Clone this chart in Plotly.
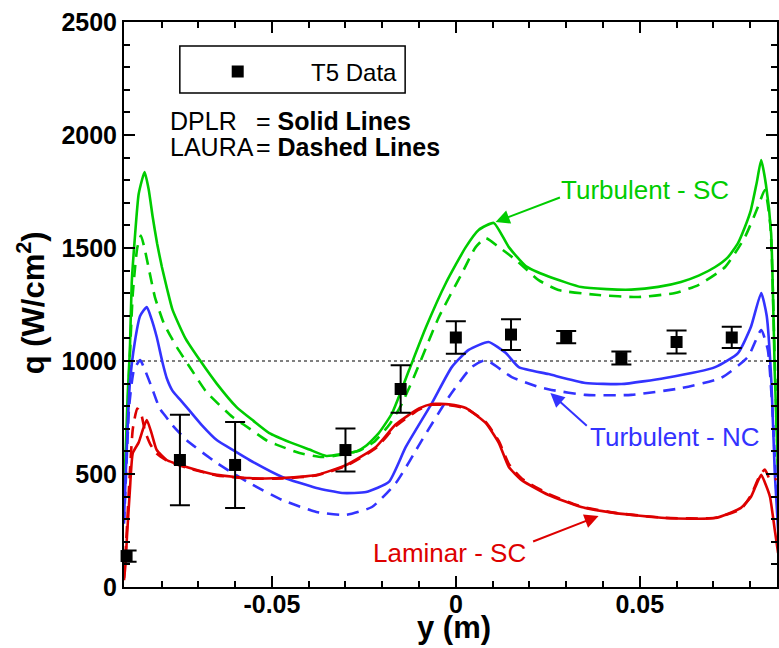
import plotly.graph_objects as go

# ---------------- data ----------------
# T5 experimental data
t5_y = [-0.0895, -0.075, -0.060, -0.030, -0.015, 0.000, 0.015, 0.030, 0.045, 0.060, 0.075]
t5_q = [137, 562, 540, 606, 876, 1104, 1117, 1106, 1013, 1084, 1104]
t5_err = [25, 200, 190, 95, 105, 72, 68, 27, 29, 51, 47]

# Turbulent - SC, DPLR (solid)
tsc_dplr_y = [-0.0902, -0.0897, -0.0892, -0.0886, -0.0881, -0.0873, -0.0862, -0.0846, -0.0835,
              -0.0824, -0.0812, -0.0799, -0.0785, -0.0770, -0.0735, -0.0696, -0.0650, -0.0596,
              -0.0550, -0.0507, -0.0450, -0.0398, -0.0352, -0.0304, -0.0270, -0.0244, -0.0210,
              -0.0173, -0.0127, -0.0081, -0.0027, 0.0027, 0.0062, 0.0103, 0.0144, 0.0190,
              0.0252, 0.0341, 0.0410, 0.0477, 0.0550, 0.0612, 0.0660, 0.0705, 0.0740, 0.0767,
              0.0785, 0.0802, 0.0818, 0.0830, 0.0843, 0.0857, 0.0867, 0.0876]
tsc_dplr_q = [420, 620, 850, 1050, 1345, 1535, 1740, 1836, 1760,
              1637, 1520, 1416, 1320, 1226, 1100, 1004, 900, 796,
              735, 681, 640, 608, 580, 590, 600, 625, 680,
              770, 960, 1150, 1345, 1504, 1580, 1611, 1504, 1420,
              1374, 1327, 1318, 1316, 1328, 1350, 1378, 1416, 1460, 1522,
              1590, 1668, 1790, 1889, 1780, 1566, 947, 500]

# Turbulent - SC, LAURA (dashed)
tsc_laura_y = [-0.0902, -0.0895, -0.0888, -0.0878, -0.0866, -0.0856, -0.0845, -0.0835, -0.0818,
               -0.0794, -0.0762, -0.0718, -0.0678, -0.0607, -0.0575, -0.0507, -0.0488, -0.0425,
               -0.0363, -0.0310, -0.0260, -0.0220, -0.0180, -0.0150, -0.0114, -0.0046, 0.0014,
               0.0054, 0.0081, 0.0117, 0.0163, 0.0225, 0.0279, 0.0388, 0.0496, 0.0596, 0.0659,
               0.0732, 0.0786, 0.0821, 0.0840, 0.0855, 0.0867, 0.0876]
tsc_laura_q = [400, 650, 950, 1300, 1500, 1555, 1490, 1412, 1283,
               1168, 1071, 960, 863, 752, 717, 641, 630, 593,
               575, 585, 605, 645, 720, 800, 929, 1195, 1380,
               1504, 1544, 1504, 1447, 1358, 1314, 1292, 1283, 1301, 1336,
               1416, 1549, 1681, 1757, 1600, 1000, 500]

# Turbulent - NC, DPLR (solid)
tnc_dplr_y = [-0.0902, -0.0896, -0.0891, -0.0886, -0.0873, -0.0858, -0.0840, -0.0828, -0.0813,
              -0.0797, -0.0786, -0.0770, -0.0750, -0.0732, -0.0690, -0.0650, -0.0600, -0.0561,
              -0.0472, -0.0379, -0.0309, -0.0244, -0.0182, -0.0136, -0.0065, -0.0011, 0.0035,
              0.0089, 0.0136, 0.0171, 0.0252, 0.0352, 0.0450, 0.0569, 0.0705, 0.0767, 0.0802,
              0.0830, 0.0845, 0.0858, 0.0867, 0.0876]
tnc_dplr_q = [300, 550, 750, 903, 1080, 1200, 1239, 1190, 1106,
              991, 925, 868, 830, 796, 715, 650, 600, 562,
              487, 438, 416, 420, 465, 620, 814, 973, 1049,
              1084, 1035, 973, 942, 903, 898, 925, 973, 1035, 1150,
              1301, 1200, 900, 504, 250]

# Turbulent - NC, LAURA (dashed)
tnc_laura_y = [-0.0902, -0.0895, -0.0888, -0.0875, -0.0858, -0.0845, -0.0827, -0.0805, -0.0791,
               -0.0770, -0.0732, -0.0650, -0.0561, -0.0472, -0.0379, -0.0298, -0.0228, -0.0163,
               -0.0092, -0.0019, 0.0043, 0.0081, 0.0152, 0.0225, 0.0260, 0.0352, 0.0477, 0.0612,
               0.0721, 0.0794, 0.0830, 0.0848, 0.0860, 0.0872]
tnc_laura_q = [280, 550, 800, 960, 1004, 960, 885, 790, 760,
               715, 650, 549, 460, 385, 332, 319, 354, 460,
               650, 841, 973, 1004, 929, 885, 872, 850, 850, 880,
               925, 1018, 1137, 1050, 800, 400]

# Laminar - SC, DPLR (solid)
lsc_dplr_y = [-0.0902, -0.0898, -0.0894, -0.0886, -0.0878, -0.0862, -0.0850, -0.0840, -0.0827,
              -0.0813, -0.0786, -0.0732, -0.0650, -0.0561, -0.0472, -0.0379, -0.0298, -0.0217,
              -0.0163, -0.0100, -0.0065, -0.0019, 0.0027, 0.0081, 0.0117, 0.0144, 0.0179,
              0.0252, 0.0341, 0.0434, 0.0569, 0.0705, 0.0775, 0.0802, 0.0830, 0.0843, 0.0854,
              0.0867, 0.0876]
lsc_dplr_q = [30, 100, 221, 429, 593, 640, 700, 739, 680,
              606, 562, 531, 496, 482, 482, 496, 540, 620,
              720, 790, 810, 808, 792, 726, 637, 531, 473,
              407, 354, 327, 305, 305, 350, 398, 496, 450, 398,
              252, 150]

# Laminar - SC, LAURA (dashed)
lsc_laura_y = [-0.0902, -0.0896, -0.0888, -0.0878, -0.0866, -0.0856, -0.0845, -0.0830, -0.0813,
               -0.0786, -0.0732, -0.0650, -0.0561, -0.0472, -0.0379, -0.0298, -0.0217, -0.0163,
               -0.0100, -0.0065, -0.0019, 0.0027, 0.0081, 0.0117, 0.0144, 0.0179, 0.0252,
               0.0341, 0.0434, 0.0569, 0.0705, 0.0775, 0.0802, 0.0825, 0.0840, 0.0852, 0.0862,
               0.0872]
lsc_laura_q = [40, 200, 450, 700, 790, 770, 690, 630, 590,
               560, 528, 494, 480, 480, 494, 536, 615, 712,
               785, 806, 805, 790, 730, 645, 545, 480,
               412, 356, 328, 306, 306, 345, 405, 490, 520, 480, 470,
               480]

x_tickvals = [-0.05, 0, 0.05]
x_ticktext = ["-0.05", "0", "0.05"]
y_tickvals = [0, 500, 1000, 1500, 2000, 2500]

GREEN = "#00cc00"
BLUE = "#3333ff"
RED = "#dd0000"

# ---------------- figure ----------------
FONT = "Liberation Sans, Arial, Helvetica, sans-serif"
fig = go.Figure()

def add_line(xs, ys, color, dashed):
    fig.add_trace(go.Scatter(
        x=xs, y=ys, mode="lines", showlegend=False, hoverinfo="skip",
        line=dict(color=color, width=2.6, dash="12px,8px" if dashed else "solid",
                  shape="spline", smoothing=0.5)))

add_line(tsc_laura_y, tsc_laura_q, GREEN, True)
add_line(tsc_dplr_y, tsc_dplr_q, GREEN, False)
add_line(tnc_laura_y, tnc_laura_q, BLUE, True)
add_line(tnc_dplr_y, tnc_dplr_q, BLUE, False)
add_line(lsc_laura_y, lsc_laura_q, RED, True)
add_line(lsc_dplr_y, lsc_dplr_q, RED, False)

nb = "\u00a0"
fig.add_trace(go.Scatter(
    x=t5_y, y=t5_q, mode="markers", name=nb * 8 + "T5 Data",
    marker=dict(symbol="square", size=12, color="black"),
    error_y=dict(type="data", array=t5_err, visible=True, width=10,
                 thickness=2, color="black"),
    cliponaxis=False))

# pixel-to-paper helpers for layout placement
L, R, T, B = 124, 779, 22, 587
def px(xp):
    return (xp - L) / (R - L)
def py(yp):
    return (B - yp) / (B - T)

fig.update_layout(
    width=779, height=648,
    margin=dict(l=L, r=779 - R, t=T, b=648 - B, pad=0),
    plot_bgcolor="white", paper_bgcolor="white",
    font=dict(family=FONT, color="black"),
    showlegend=True,
    legend=dict(x=px(218), y=py(72), xanchor="left", yanchor="middle",
                bgcolor="rgba(0,0,0,0)", borderwidth=0,
                font=dict(family=FONT, size=24, color="black")),
    xaxis=dict(range=[-0.0902, 0.0873], showgrid=False, zeroline=False,
               showline=True, linewidth=2, linecolor="black", mirror="ticks",
               ticks="inside", ticklen=11, tickwidth=2, tickcolor="black",
               tickvals=x_tickvals, ticktext=x_ticktext, ticklabelstandoff=-6,
               tickfont=dict(family=FONT, size=25, weight="bold"),
               minor=dict(dtick=0.01, tick0=0, ticks="inside", ticklen=6,
                          tickwidth=2, tickcolor="black")),
    yaxis=dict(range=[0, 2500], showgrid=False, zeroline=False,
               showline=True, linewidth=2, linecolor="black", mirror="ticks",
               ticks="inside", ticklen=11, tickwidth=2, tickcolor="black",
               tickvals=y_tickvals,
               tickfont=dict(family=FONT, size=25, weight="bold"),
               minor=dict(dtick=100, tick0=0, ticks="inside", ticklen=6,
                          tickwidth=2, tickcolor="black")),
)

# legend box, reference line at 1000
fig.add_shape(type="rect", xref="paper", yref="paper",
              x0=px(180), x1=px(406), y0=py(93), y1=py(46),
              line=dict(color="black", width=1.5), fillcolor="rgba(0,0,0,0)")
fig.add_shape(type="line", xref="paper", yref="y", x0=0, x1=1, y0=1000, y1=1000,
              line=dict(color="black", width=1, dash="dot"), layer="below")

ann = []
def txt(text, x, y, size, xanchor="center", color="black", weight="normal",
        xref="paper", yref="paper", angle=0):
    ann.append(dict(text=text, x=x, y=y, xref=xref, yref=yref, showarrow=False,
                    xanchor=xanchor, yanchor="middle", textangle=angle,
                    font=dict(size=size, color=color, weight=weight)))

# axis titles
txt("y (m)", px(455), py(627), 31, weight="bold")
txt("q (W/cm<sup>2</sup>)", px(31), py(303), 31, weight="bold", angle=-90)
# method notes
txt("DPLR", px(168), py(121), 25, xanchor="left")
txt("= <b>Solid Lines</b>", px(254), py(121), 25, xanchor="left")
txt("LAURA", px(168), py(147), 25, xanchor="left")
txt("= <b>Dashed Lines</b>", px(254), py(147), 25, xanchor="left")
# curve labels
txt("Turbulent - SC", 0.0515, 1757, 26, color=GREEN, xref="x", yref="y")
txt("Turbulent - NC", 0.0596, 664, 26, color=BLUE, xref="x", yref="y")
txt("Laminar - SC", -0.0016, 150, 26, color=RED, xref="x", yref="y")
# arrows
for (hx, hy, tx, ty, c) in [(0.0108, 1615, 0.0287, 1726, GREEN),
                            (0.0257, 858, 0.0360, 708, BLUE),
                            (0.0388, 314, 0.0206, 199, RED)]:
    ann.append(dict(text="", x=hx, y=hy, ax=tx, ay=ty, xref="x", yref="y",
                    axref="x", ayref="y", showarrow=True, arrowhead=2,
                    arrowsize=1.4, arrowwidth=2, arrowcolor=c, standoff=0))
fig.update_layout(annotations=ann)

fig.write_html("out.html", config={"displayModeBar": False},
               post_script="document.body.style.margin='0';document.body.style.overflow='hidden';")
